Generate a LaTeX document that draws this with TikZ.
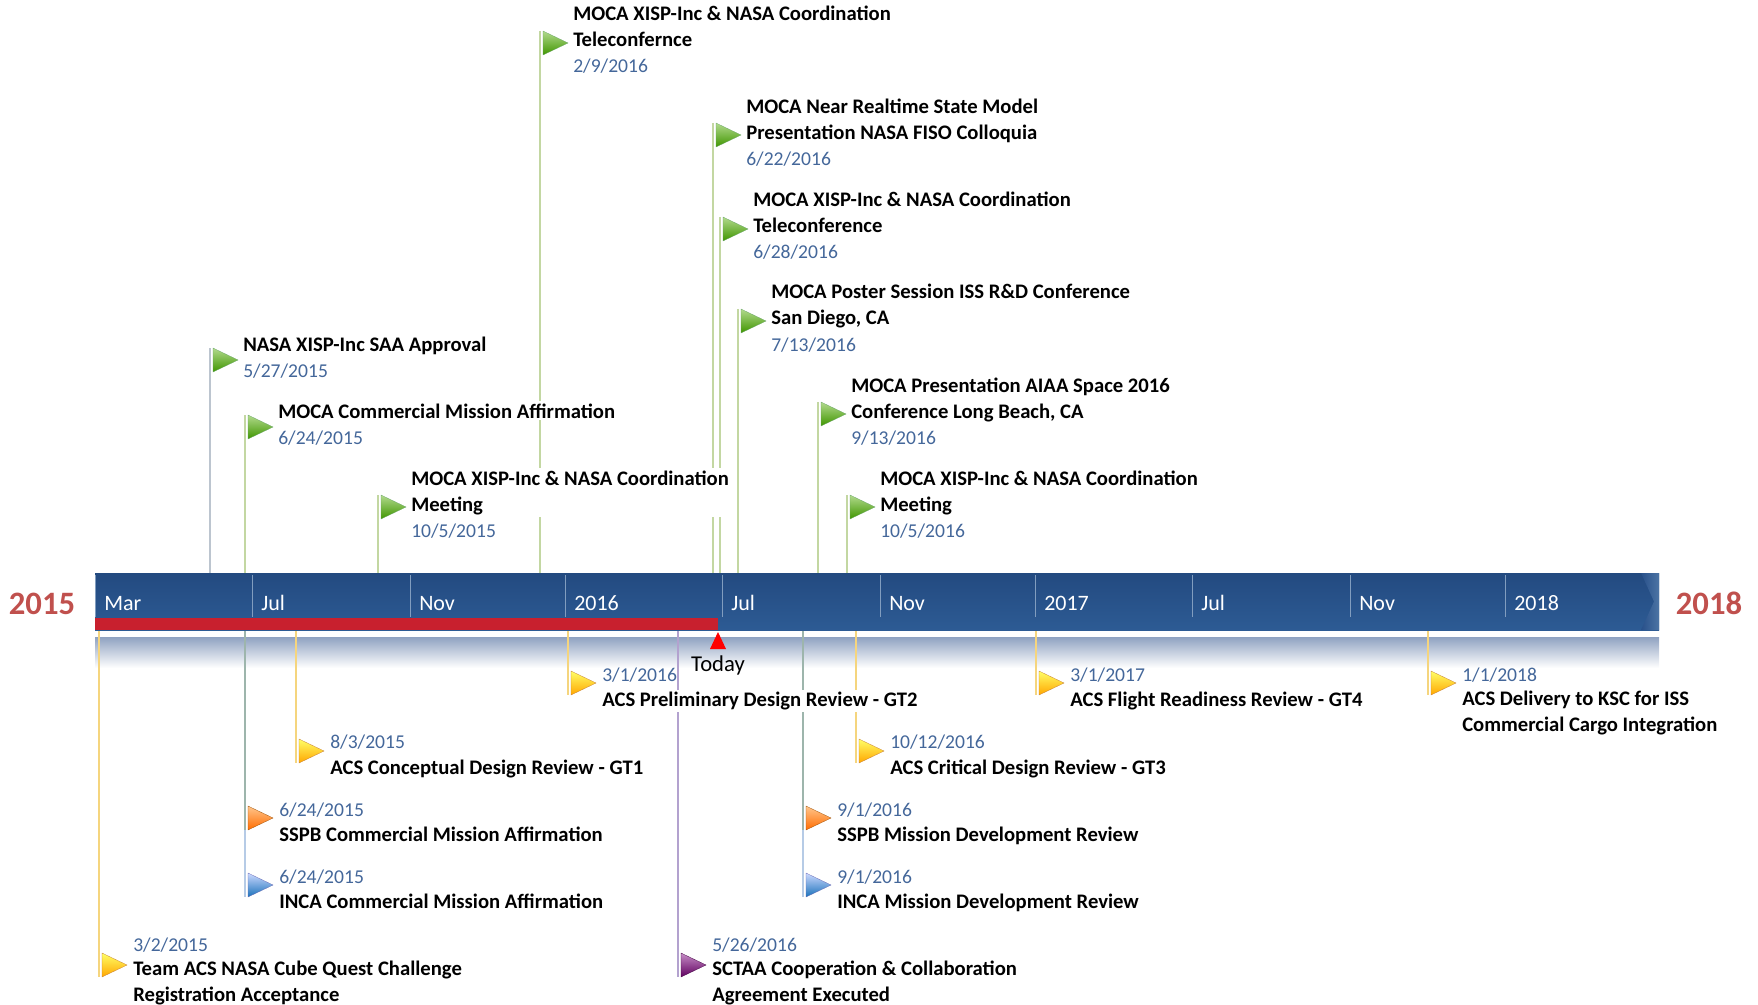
\documentclass[tikz,border=0pt]{standalone}
\usepackage{fontspec}
\setmainfont{Carlito}
\usetikzlibrary{positioning}
\definecolor{barblue}{HTML}{28508A}
\definecolor{bartop}{HTML}{234A80}
\definecolor{barbot}{HTML}{2D5B94}
\definecolor{dateblue}{HTML}{44679A}
\definecolor{yearred}{HTML}{C0504D}
\definecolor{todayred}{HTML}{C8202E}
\definecolor{shadowblue}{HTML}{8FA2C1}
\definecolor{stemgreen}{HTML}{C3D7A2}
\definecolor{stemgrey}{HTML}{BCC5CF}
\definecolor{stemyellow}{HTML}{F5D57E}
\definecolor{stemteal}{HTML}{9DB5AC}
\definecolor{stemblue}{HTML}{B6CBE6}
\definecolor{stempurple}{HTML}{B3A2CF}
\newcommand\evtext{\fontsize{15.5}{19.5}\selectfont}
\newcommand\evdate{\fontsize{14.7}{19.5}\selectfont}
\pgfdeclarelayer{back}
\pgfdeclarelayer{stems}
\pgfsetlayers{back,stems,main}
\tikzset{
  stem/.style={line width=1.5pt},
  ttl/.style={font=\evtext\bfseries, align=left, anchor=base west, fill=white, inner sep=1.5pt},
  dte/.style={font=\evdate, text=dateblue, anchor=base west, inner sep=1.5pt},
  month/.style={font=\fontsize{16.5}{19}\selectfont, text=white, anchor=base west, inner sep=0pt},
  year/.style={font=\fontsize{24.5}{28}\selectfont\bfseries, text=yearred, anchor=base, inner sep=0pt},
  gflag/.style={top color=green!35!olive!45!white, bottom color=green!45!black!75!yellow, draw=green!40!black!60, line width=0.2pt},
  yflag/.style={top color=yellow!60!white, bottom color=orange!70!yellow, draw=orange!70!black!80, line width=0.2pt},
  oflag/.style={top color=orange!45!white, bottom color=orange!85!red, draw=orange!60!black, line width=0.2pt},
  bflag/.style={top color=cyan!25!blue!20!white, bottom color=blue!45!cyan!70!black!90, draw=blue!50!black!60, line width=0.2pt},
  pflag/.style={top color=violet!45!white, bottom color=violet!75!black, draw=violet!50!black, line width=0.2pt},
}
\begin{document}
\begin{tikzpicture}[x=0.75pt,y=-0.75pt]
\useasboundingbox (0,0) rectangle (1758,1005);
% timeline bar
\begin{pgfonlayer}{back}
\shade[top color=shadowblue, bottom color=white] (95,637) rectangle (1659,668);
\end{pgfonlayer}
\node[top color=bartop, bottom color=barbot, minimum width=1173pt, minimum height=42.75pt, inner sep=0pt, outer sep=0pt] (bar) at (877,601.5) {};
\shade[left color=barblue, right color=barbot!85!white] (1641,573) -- (1659,573) -- (1659,630) -- (1641,630) -- (1654,601.5) -- cycle;
\fill[todayred] (bar.south west) rectangle (718,618);
\foreach \x/\m in {95/Mar,252/Jul,410/Nov,565/2016,722/Jul,880/Nov,1035/2017,1192/Jul,1350/Nov,1505/2018}{
\draw[barbot!60!white, line width=0.5pt] (\x,575) -- (\x,617);
\node[month] (m\x) at (\x+9,610) {\m};
}
\node[year] (y2015) at (42,614) {2015};
\node[year] (y2018) at (1709,614) {2018};
% today marker
\coordinate (today) at (718,632);
\fill[red] (today) -- ++(-8,17) -- ++(16,0) -- cycle;
\node[font=\fontsize{17}{20}\selectfont, anchor=base, inner sep=0pt] (todaylbl) at (718,671) {Today};

% milestones above the bar
\foreach \i/\sx/\fy/\dy/\sc/\ttl/\dt in {
1/210/360/371/stemgrey/{NASA XISP-Inc SAA Approval}/{5/27/2015},
2/245/427/438/stemgreen/{MOCA Commercial Mission Affirmation}/{6/24/2015},
3/378/507/531/stemgreen/{MOCA XISP-Inc \& NASA Coordination\\Meeting}/{10/5/2015},
4/540/43/67/stemgreen/{MOCA XISP-Inc \& NASA Coordination\\Teleconfernce}/{2/9/2016},
5/713/135/160/stemgreen/{MOCA Near Realtime State Model\\Presentation NASA FISO Colloquia}/{6/22/2016},
6/720/229/253/stemgreen/{MOCA XISP-Inc \& NASA Coordination\\Teleconference}/{6/28/2016},
7/738/321/345/stemgreen/{MOCA Poster Session ISS R\&D Conference\\San Diego, CA}/{7/13/2016},
8/818/414/438/stemgreen/{MOCA Presentation AIAA Space 2016\\Conference Long Beach, CA}/{9/13/2016},
9/847/507/531/stemgreen/{MOCA XISP-Inc \& NASA Coordination\\Meeting}/{10/5/2016}}{
\coordinate (tf\i) at (\sx,\fy-12);
\begin{pgfonlayer}{stems}
\draw[stem,\sc] (tf\i) -- (tf\i |- bar.north);
\end{pgfonlayer}
\shade[gflag] (tf\i) ++(3,0) -- ++(25,12) -- ++(-25,12) -- cycle;
\node[ttl] (tt\i) at (\sx+31,\dy-20) {\ttl};
\node[dte] (td\i) at (\sx+31,\dy+6) {\dt};
}

% milestones below the bar
\foreach \i/\sx/\fy/\dy/\ty/\sc/\fc/\ttl/\dt in {
1/99/965/945/995/stemyellow/yflag/{Team ACS NASA Cube Quest Challenge\\Registration Acceptance}/{3/2/2015},
2/296/751/742/768/stemyellow/yflag/{ACS Conceptual Design Review - GT1}/{8/3/2015},
3/245/885/877/902/stemblue/bflag/{INCA Commercial Mission Affirmation}/{6/24/2015},
4/245/818/810/835/stemteal/oflag/{SSPB Commercial Mission Affirmation}/{6/24/2015},
5/568/683/675/700/stemyellow/yflag/{ACS Preliminary Design Review - GT2}/{3/1/2016},
6/678/965/945/995/stempurple/pflag/{SCTAA Cooperation \& Collaboration\\Agreement Executed}/{5/26/2016},
7/856/751/742/768/stemyellow/yflag/{ACS Critical Design Review - GT3}/{10/12/2016},
8/803/885/877/902/stemblue/bflag/{INCA Mission Development Review}/{9/1/2016},
9/803/818/810/835/stemteal/oflag/{SSPB Mission Development Review}/{9/1/2016},
10/1036/683/675/700/stemyellow/yflag/{ACS Flight Readiness Review - GT4}/{3/1/2017},
11/1428/683/675/725/stemyellow/yflag/{ACS Delivery to KSC for ISS\\Commercial Cargo Integration}/{1/1/2018}}{
\coordinate (bf\i) at (\sx,\fy+12);
\begin{pgfonlayer}{stems}
\draw[stem,\sc] (bf\i |- bar.south) -- (bf\i);
\end{pgfonlayer}
\shade[\fc] (bf\i) ++(3,0) -- ++(25,-12) -- ++(-25,-12) -- cycle;
\node[dte] (bd\i) at (\sx+32,\dy+6) {\dt};
\node[ttl] (bt\i) at (\sx+32,\ty+6) {\ttl};
}
\end{tikzpicture}
\end{document}
